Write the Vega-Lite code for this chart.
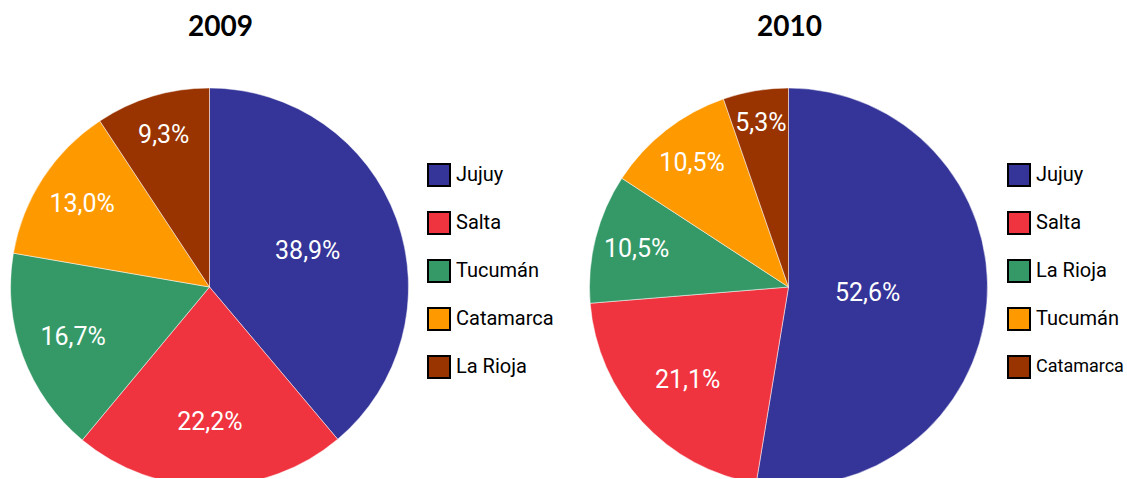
{
  "$schema": "https://vega.github.io/schema/vega-lite/v6.json",
  "padding": {"top": 14, "left": 0, "right": 0, "bottom": 0},
  "background": "white",
  "config": {
    "view": {"stroke": null},
    "locale": {"number": {"decimal": ",", "thousands": ".", "grouping": [3], "currency": ["", " €"]}}
  },
  "data": {
    "values": [
      {"year": 2009, "region": "Jujuy", "rank": 1, "share": 0.389},
      {"year": 2009, "region": "Salta", "rank": 2, "share": 0.222},
      {"year": 2009, "region": "Tucumán", "rank": 3, "share": 0.167},
      {"year": 2009, "region": "Catamarca", "rank": 4, "share": 0.130},
      {"year": 2009, "region": "La Rioja", "rank": 5, "share": 0.093},
      {"year": 2010, "region": "Jujuy", "rank": 1, "share": 0.526},
      {"year": 2010, "region": "Salta", "rank": 2, "share": 0.211},
      {"year": 2010, "region": "La Rioja", "rank": 3, "share": 0.105},
      {"year": 2010, "region": "Tucumán", "rank": 4, "share": 0.105},
      {"year": 2010, "region": "Catamarca", "rank": 5, "share": 0.053}
    ]
  },
  "spacing": 25,
  "resolve": {"scale": {"color": "independent"}, "legend": {"color": "independent"}},
  "hconcat": [
    {
      "title": {"text": "2009", "font": "Lato", "fontSize": 28, "fontWeight": "bold", "color": "black", "dx": 11, "offset": 46, "anchor": "middle"},
      "width": 419,
      "height": 390,
      "transform": [{"filter": "datum.year == 2009"}],
      "encoding": {
        "theta": {"field": "share", "type": "quantitative", "stack": true},
        "order": {"field": "rank", "type": "quantitative"}
      },
      "layer": [
        {
          "mark": {"type": "arc", "outerRadius": 199, "clip": true, "yOffset": 4, "stroke": "white", "strokeWidth": 0.5},
          "encoding": {
            "color": {
              "field": "region", "type": "nominal",
              "scale": {"domain": ["Jujuy", "Salta", "Tucumán", "Catamarca", "La Rioja"], "range": ["#343499", "#EF333F", "#349967", "#FF9900", "#993300"]},
              "legend": {"orient": "none", "legendX": 427, "legendY": 75, "title": null, "symbolType": "square", "symbolSize": 484, "symbolStrokeColor": "black", "symbolStrokeWidth": 2, "symbolOpacity": 1, "labelFont": "Roboto", "labelFontSize": 20, "labelColor": "black", "labelOffset": 5, "rowPadding": 18, "padding": 0}
            }
          }
        },
        {
          "mark": {"type": "text", "font": "Roboto", "fontSize": 25, "fill": "white", "yOffset": 4, "align": "center", "baseline": "middle"},
          "encoding": {
            "detail": {"field": "region", "type": "nominal"},
            "radius": {"field": "share", "type": "quantitative", "scale": {"domain": [0, 0.55], "range": [176, 75]}},
            "text": {"field": "share", "type": "quantitative", "format": ".1%"}
          }
        }
      ]
    },
    {
      "title": {"text": "2010", "font": "Lato", "fontSize": 28, "fontWeight": "bold", "color": "black", "dx": 1, "offset": 46, "anchor": "middle"},
      "width": 419,
      "height": 390,
      "transform": [{"filter": "datum.year == 2010"}],
      "encoding": {
        "theta": {"field": "share", "type": "quantitative", "stack": true},
        "order": {"field": "rank", "type": "quantitative"}
      },
      "layer": [
        {
          "mark": {"type": "arc", "outerRadius": 199, "clip": true, "yOffset": 4, "stroke": "white", "strokeWidth": 0.5},
          "encoding": {
            "color": {
              "field": "region", "type": "nominal",
              "scale": {"domain": ["Jujuy", "Salta", "La Rioja", "Tucumán", "Catamarca"], "range": ["#343499", "#EF333F", "#349967", "#FF9900", "#993300"]},
              "legend": {"orient": "none", "legendX": 428, "legendY": 75, "title": null, "symbolType": "square", "symbolSize": 484, "symbolStrokeColor": "black", "symbolStrokeWidth": 2, "symbolOpacity": 1, "labelFont": "Roboto", "labelFontSize": 20, "labelColor": "black", "labelOffset": 5, "rowPadding": 18, "padding": 0,
                "labelLimit": 200,
                "encode": {"labels": {"update": {"fontSize": {"signal": "datum.label === 'Catamarca' ? 18 : 20"}}}}}
            }
          }
        },
        {
          "mark": {"type": "text", "font": "Roboto", "fontSize": 25, "fill": "white", "yOffset": 4, "align": "center", "baseline": "middle"},
          "encoding": {
            "detail": {"field": "region", "type": "nominal"},
            "radius": {"field": "share", "type": "quantitative", "scale": {"domain": [0, 0.55], "range": [176, 75]}},
            "text": {"field": "share", "type": "quantitative", "format": ".1%"}
          }
        }
      ]
    }
  ]
}
